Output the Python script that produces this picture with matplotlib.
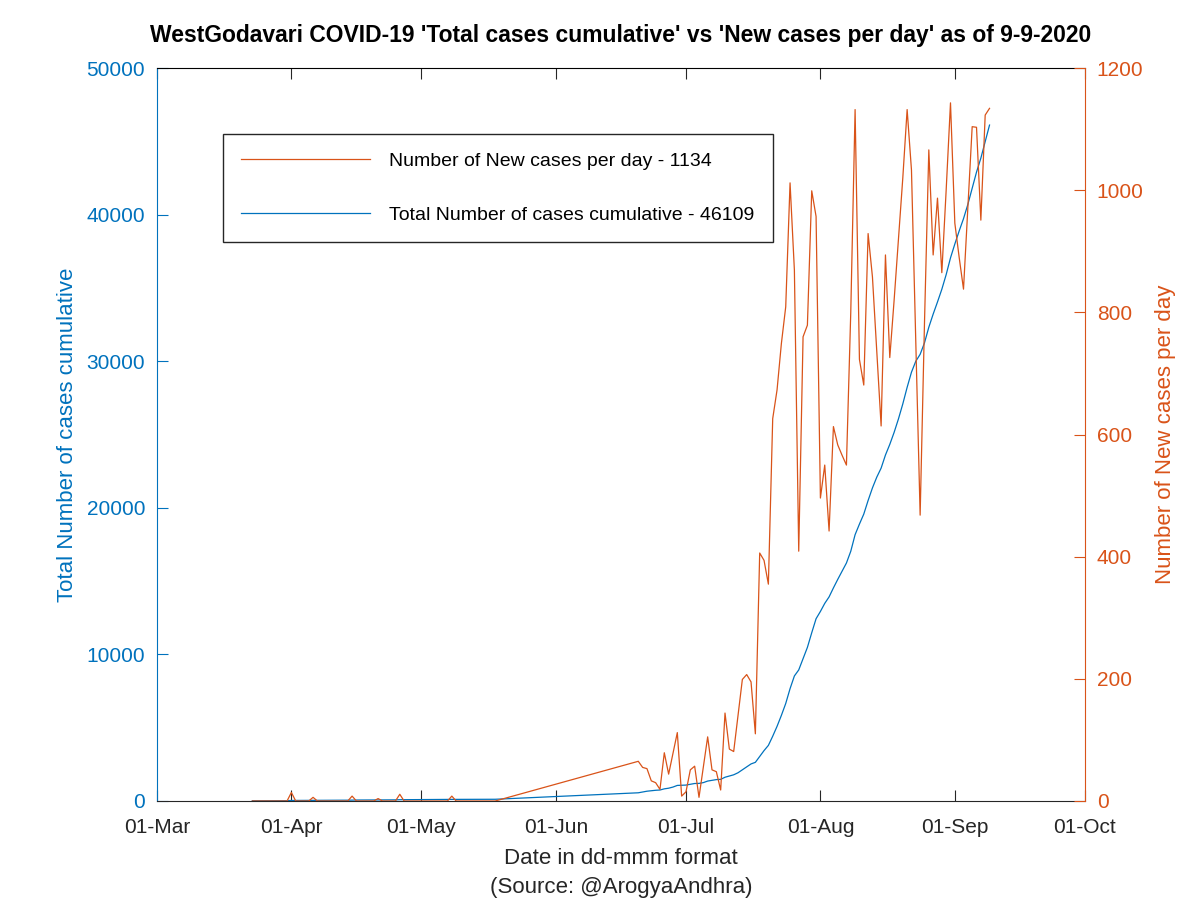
import numpy as np
import pandas as pd
import matplotlib
matplotlib.use('Agg')
import matplotlib.pyplot as plt
import matplotlib.dates as mdates

plt.rcParams['font.family'] = ['Liberation Sans', 'DejaVu Sans']

# dates: reported days (gap between 18-May and 20-Jun is just drawn straight)
early_dates = pd.date_range('2020-03-23', '2020-05-18')
late_dates = pd.date_range('2020-06-20', '2020-09-09')
dates = early_dates.append(late_dates)

# new cases per day
new_early = [0, 0, 0, 0, 0, 0, 0, 0, 0,
             14, 0, 0, 0, 0, 6, 0, 0, 0, 0,
             0, 0, 0, 0, 8, 0, 0, 0, 0, 0,
             4, 0, 0, 0, 0, 11, 0, 0, 0, 0,
             0, 0, 0, 0, 0, 0, 0, 8, 0, 0,
             0, 0, 0, 0, 0, 0, 0, 0]
new_late = [65, 55, 53, 33, 30, 19, 79, 44, 78, 112,
            8, 15, 51, 57, 6, 55, 105, 51, 48, 18,
            144, 85, 81, 140, 199, 207, 195, 110, 406, 394,
            355, 626, 673, 749, 809, 1012, 869, 409, 760, 779,
            999, 957, 496, 550, 442, 613, 583, 566, 550, 800,
            1132, 723, 681, 929, 858, 735, 614, 894, 726, 820,
            920, 1020, 1132, 1033, 750, 468, 782, 1066, 894, 987,
            865, 1000, 1143, 946, 890, 838, 970, 1104, 1103, 951,
            1123, 1134]

# total cases cumulative
total_early = [15, 16, 16, 17, 17, 18, 20, 21, 23,
               37, 39, 40, 40, 42, 48, 49, 49, 50, 52,
               52, 53, 53, 55, 63, 66, 67, 69, 69, 70,
               74, 75, 75, 77, 78, 89, 92, 93, 95, 95,
               96, 98, 98, 99, 99, 100, 102, 110, 112, 112,
               113, 113, 114, 114, 115, 117, 117, 118]
total_late = [560, 615, 668, 701, 731, 750, 829, 873, 951, 1063,
              1071, 1086, 1137, 1194, 1200, 1255, 1360, 1411, 1459, 1477,
              1621, 1706, 1787, 1927, 2126, 2333, 2528, 2638, 3044, 3438,
              3793, 4419, 5092, 5841, 6650, 7662, 8531, 8940, 9700, 10479,
              11478, 12435, 12931, 13481, 13923, 14536, 15119, 15685, 16235, 17035,
              18167, 18890, 19571, 20500, 21358, 22093, 22707, 23601, 24327, 25147,
              26067, 27087, 28219, 29252, 30002, 30470, 31252, 32318, 33212, 34042,
              34907, 35907, 37050, 37996, 38886, 39724, 40694, 41798, 42901, 43852,
              44975, 46109]

new_cases = new_early + new_late
total_cases = total_early + total_late

blue = '#0072BD'
orange = '#D95319'

fig = plt.figure(figsize=(12, 9), dpi=100)
ax1 = fig.add_axes([0.1308, 0.11, 0.7733, 0.8144])
ax2 = ax1.twinx()

l1, = ax1.plot(dates, total_cases, color=blue, lw=0.9,
               label='Total Number of cases cumulative - 46109')
l2, = ax2.plot(dates, new_cases, color=orange, lw=0.9,
               label='Number of New cases per day - 1134')

ax1.set_xlim(pd.Timestamp('2020-03-01'), pd.Timestamp('2020-10-01'))
ax1.set_ylim(0, 50000)
ax2.set_ylim(0, 1200)
ax1.set_yticks(np.arange(0, 50001, 10000))
ax2.set_yticks(np.arange(0, 1201, 200))
ax1.xaxis.set_major_locator(mdates.MonthLocator())
ax1.xaxis.set_major_formatter(mdates.DateFormatter('%d-%b'))

ax1.tick_params(axis='x', direction='in', length=8, top=True, labelsize=15, pad=12.5,
                colors='#262626')
ax1.tick_params(axis='y', direction='in', length=8, colors=blue, labelsize=15, pad=8.5)
ax2.tick_params(axis='y', direction='in', length=8, colors=orange, labelsize=15, pad=8.5)

ax1.spines['left'].set_color(blue)
ax1.spines['bottom'].set_color('#262626')
ax1.spines['right'].set_visible(False)
ax2.spines['left'].set_visible(False)
ax2.spines['top'].set_visible(False)
ax2.spines['bottom'].set_visible(False)
ax2.spines['right'].set_color(orange)

ax1.set_ylabel('Total Number of cases cumulative', color=blue, fontsize=16, labelpad=6)
ax2.set_ylabel('Number of New cases per day', color=orange, fontsize=16, labelpad=8)
ax1.set_xlabel('Date in dd-mmm format\n(Source: @ArogyaAndhra)', fontsize=16, labelpad=8,
               color='#262626', linespacing=1.45)
ax1.set_title("WestGodavari COVID-19 'Total cases cumulative' vs 'New cases per day' as of 9-9-2020",
              fontsize=16.5, fontweight='bold', pad=19)

leg = ax2.legend(handles=[l2, l1], loc='upper left', bbox_to_anchor=(0.071, 0.91),
                 fontsize=14, frameon=True, fancybox=False, borderpad=0.95,
                 labelspacing=1.85, handlelength=6.6, handletextpad=1.0,
                 borderaxespad=0, framealpha=1)
leg.get_frame().set_edgecolor('#262626')
leg.get_frame().set_linewidth(1.0)

fig.savefig('out.png', dpi=100)
